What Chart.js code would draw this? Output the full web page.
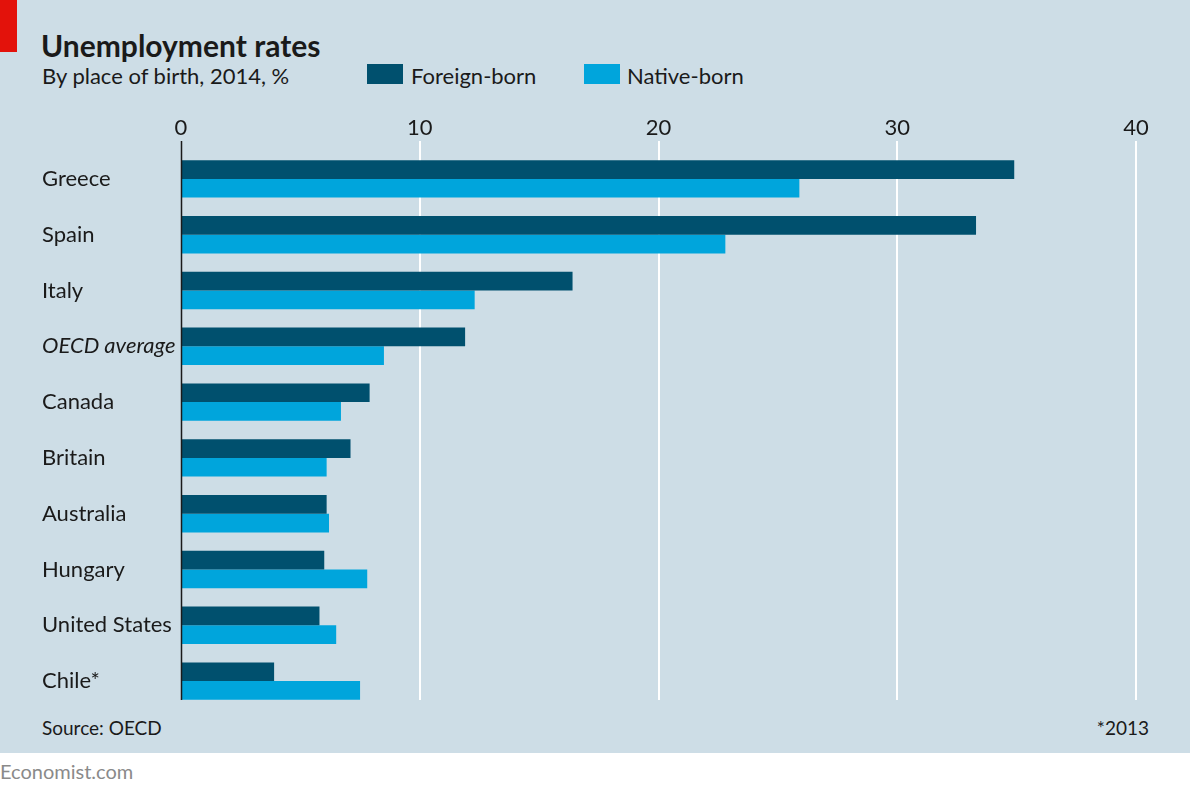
<!DOCTYPE html>
<html>
<head>
<meta charset="utf-8">
<script src="https://cdn.jsdelivr.net/npm/chart.js@4"></script>
<style>
  body { margin: 0; width: 1190px; height: 790px; background: #fff; position: relative; overflow: hidden; font-family: Lato, "Noto Sans", sans-serif; color: #1a1a1a; }
  #panel { position: absolute; left: 0; top: 0; width: 1190px; height: 753px; background: #cddde6; }
  #red { position: absolute; left: 0; top: 0; width: 17px; height: 52px; background: #e3120b; }
  .txt { position: absolute; white-space: nowrap; }
  #title { left: 41px; top: 27px; font-size: 30px; font-weight: bold; }
  #sub { left: 42px; top: 62px; font-size: 22px; }
  .sw { position: absolute; width: 36px; height: 20px; top: 64px; }
  #source { left: 42px; top: 716px; font-size: 19px; }
  #note { right: 41px; top: 716px; font-size: 19px; }
  #brand { left: 0; top: 759px; font-size: 20px; color: #8a8a8a; }
  #wrap { position: absolute; left: 0; top: 0; width: 1190px; height: 790px; }
</style>
</head>
<body>
<div id="panel"></div>
<div id="red"></div>
<div class="txt" id="title">Unemployment rates</div>
<div class="txt" id="sub">By place of birth, 2014, %</div>
<div class="sw" style="left:367px;background:#00506e"></div>
<div class="txt" style="left:411px;top:62px;font-size:22px">Foreign-born</div>
<div class="sw" style="left:584px;background:#00a5dc"></div>
<div class="txt" style="left:627px;top:62px;font-size:22px">Native-born</div>
<div class="txt" id="source">Source: OECD</div>
<div class="txt" id="note">*2013</div>
<div class="txt" id="brand">Economist.com</div>
<div id="wrap"><canvas id="chart" width="1190" height="790"></canvas></div>
<script>
const countries = ["Greece", "Spain", "Italy", "OECD average", "Canada", "Britain", "Australia", "Hungary", "United States", "Chile*"];
const foreignBorn = [34.9, 33.3, 16.4, 11.9, 7.9, 7.1, 6.1, 6.0, 5.8, 3.9];
const nativeBorn = [25.9, 22.8, 12.3, 8.5, 6.7, 6.1, 6.2, 7.8, 6.5, 7.5];
const xTicks = [0, 10, 20, 30, 40];

// grille blanche et axe vertical noir, dessinés derrière les barres
const gridPlugin = {
    id: "grid",
    beforeDatasetsDraw(chart) {
        const ctx = chart.ctx;
        const x = chart.scales.x;
        const area = chart.chartArea;
        const top = area.top - 10;
        const bottom = area.bottom - 9;
        ctx.save();
        ctx.strokeStyle = "#ffffff";
        ctx.lineWidth = 2;
        xTicks.slice(1).forEach(function (v) {
            const px = Math.round(x.getPixelForValue(v));
            ctx.beginPath();
            ctx.moveTo(px, top);
            ctx.lineTo(px, bottom);
            ctx.stroke();
        });
        ctx.restore();
    },
    afterDatasetsDraw(chart) {
        const ctx = chart.ctx;
        const area = chart.chartArea;
        const px = Math.round(chart.scales.x.getPixelForValue(0)) + 0.5;
        ctx.save();
        ctx.strokeStyle = "#1a1a1a";
        ctx.lineWidth = 1.5;
        ctx.beginPath();
        ctx.moveTo(px, area.top - 10);
        ctx.lineTo(px, area.bottom - 9);
        ctx.stroke();
        ctx.restore();
    }
};

new Chart(document.getElementById("chart"), {
    type: "bar",
    data: {
        labels: countries,
        datasets: [{
            label: "Foreign-born",
            data: foreignBorn,
            backgroundColor: "#00506e",
        }, {
            label: "Native-born",
            data: nativeBorn,
            backgroundColor: "#00a5dc",
        }],
    },
    options: {
        indexAxis: "y",
        responsive: false,
        animation: false,
        layout: { padding: { left: 42, right: 54, top: 0, bottom: 81 } },
        datasets: { bar: { barPercentage: 1, categoryPercentage: 0.67 } },
        plugins: { legend: { display: false }, tooltip: { enabled: false } },
        scales: {
            x: {
                position: "top",
                min: 0,
                max: 40,
                afterFit: function (scale) { scale.height = 151; },
                afterBuildTicks: function (scale) { scale.ticks = xTicks.map(function (v) { return { value: v }; }); },
                grid: { display: false },
                border: { display: false },
                ticks: { color: "#1a1a1a", font: { family: "Lato", size: 22 }, padding: 2 },
            },
            y: {
                afterFit: function (scale) { scale.width = 139; },
                grid: { display: false },
                border: { display: false },
                ticks: {
                    color: "#1a1a1a",
                    crossAlign: "far",
                    padding: 0,
                    font: function (c) {
                        return { family: "Lato", size: 22, style: c.index === 3 ? "italic" : "normal" };
                    },
                },
            },
        },
    },
    plugins: [gridPlugin],
});
</script>
</body>
</html>
